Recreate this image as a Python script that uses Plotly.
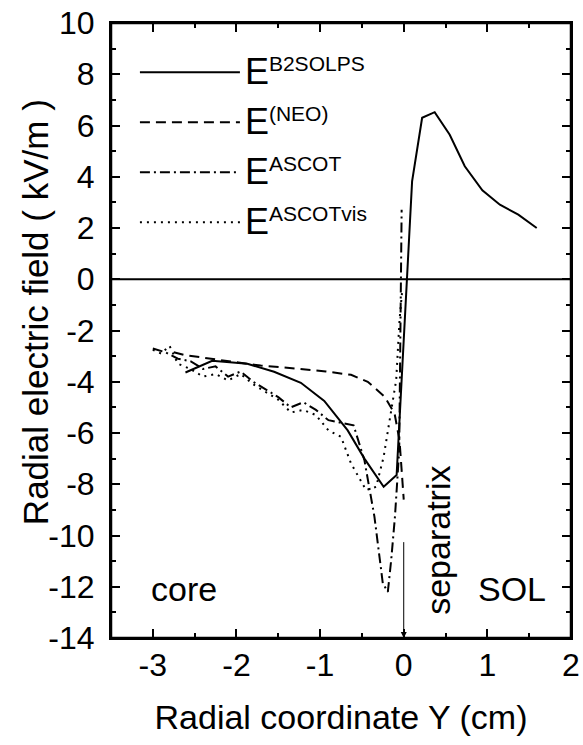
import plotly.graph_objects as go

# ---- data ----
b2_x = [-2.61, -2.29, -1.87, -1.55, -1.23, -0.95, -0.67, -0.47, -0.24, -0.085, 0.10, 0.22, 0.37, 0.55, 0.73, 0.94, 1.15, 1.37, 1.59]
b2_y = [-3.64, -3.18, -3.30, -3.61, -4.04, -4.75, -5.90, -7.00, -8.10, -7.64, 3.82, 6.30, 6.52, 5.64, 4.41, 3.47, 2.91, 2.52, 2.00]

neo_x = [-2.75, -2.63, -2.2, -1.71, -1.3, -0.93, -0.63, -0.43, -0.23, -0.11, -0.05, -0.02, 0.0]
neo_y = [-2.85, -2.95, -3.15, -3.37, -3.48, -3.60, -3.73, -4.00, -4.58, -5.23, -6.3, -7.5, -8.6]

ascot_x = [-3.0, -2.85, -2.7, -2.55, -2.4, -2.25, -2.1, -1.95, -1.8, -1.65, -1.5, -1.35, -1.2, -1.05, -0.9, -0.75, -0.6,
           -0.47, -0.35, -0.25, -0.19, -0.15, -0.105, -0.054, -0.04, -0.025]
ascot_y = [-2.7, -2.85, -3.1, -3.2, -3.5, -3.4, -3.8, -3.6, -4.0, -4.3, -4.6, -5.0, -4.8, -5.1, -5.5, -5.6, -5.7,
           -7.06, -9.27, -11.87, -12.2, -10.96, -9.27, -6.67, -2.1, 2.71]

vis_x = [-3.0, -2.9, -2.8, -2.7, -2.55, -2.4, -2.25, -2.1, -1.95, -1.8, -1.65, -1.5, -1.35, -1.2, -1.05, -0.9, -0.75,
         -0.63, -0.45, -0.33, -0.24, -0.15, -0.09, -0.05, -0.02]
vis_y = [-2.75, -2.9, -2.6, -3.3, -3.5, -3.8, -3.7, -3.95, -3.7, -4.1, -4.4, -4.7, -5.2, -5.1, -5.3, -5.9, -6.15,
         -7.19, -8.23, -8.1, -6.93, -5.1, -3.93, -1.58, -0.5]

series_sup = ["B2SOLPS", "(NEO)", "ASCOT", "ASCOTvis"]

x_ticks = [-3, -2, -1, 0, 1, 2]
y_ticks = list(range(-14, 11, 2))
x_range = [-3.5, 2]
y_range = [-14, 10]

FONT = "Liberation Sans, Arial, sans-serif"


def legend_name(sup):
    return "<span style='font-size:36px'>E</span><sup>" + sup + "</sup>"


styles = ["solid", "10px,6px", "10px,4px,2px,4px", "2px,5px"]
data = [(b2_x, b2_y), (neo_x, neo_y), (ascot_x, ascot_y), (vis_x, vis_y)]

fig = go.Figure()
for i, ((xs, ys), sup, ds) in enumerate(zip(data, series_sup, styles)):
    fig.add_trace(go.Scatter(x=xs, y=ys, mode="lines", name=legend_name(sup), legendgroup="g%d" % i,
                             line=dict(color="black", width=2, dash=ds)))

# zero line
fig.add_hline(y=0, line=dict(color="black", width=2))

# plot frame (paper coordinates of the plot area)
fig.add_shape(type="rect", xref="paper", yref="paper", x0=0, x1=1, y0=0, y1=1,
              line=dict(color="black", width=2.5), fillcolor="rgba(0,0,0,0)", layer="above")

# separatrix arrow
fig.add_annotation(x=0, y=-14, ax=0, ay=-10.2, axref="x", ayref="y", xref="x", yref="y",
                   showarrow=True, arrowhead=2, arrowsize=1.2, arrowwidth=1, arrowcolor="black", text="")

fig.add_annotation(x=-2.63, y=-12.1, text="core", showarrow=False, font=dict(size=34, color="black", family=FONT))
fig.add_annotation(x=1.29, y=-12.1, text="SOL", showarrow=False, font=dict(size=34, color="black", family=FONT))
fig.add_annotation(x=0.40, y=-10.2, text="separatrix", textangle=-90, showarrow=False,
                   font=dict(size=34, color="black", family=FONT))

# y-axis title placed as rotated text left of the tick labels
fig.add_annotation(xref="paper", yref="paper", x=-0.165, y=0.53, text="Radial electric field ( kV/m )",
                   textangle=-90, showarrow=False, xanchor="center", yanchor="middle",
                   font=dict(size=35, color="black", family=FONT))

axis_common = dict(showgrid=False, zeroline=False, showline=True, linecolor="black", linewidth=2,
                   mirror="allticks", ticks="inside", ticklen=9, tickwidth=2, tickcolor="black",
                   automargin=False, ticklabeloverflow="allow",
                   tickfont=dict(size=32, color="black", family=FONT))

fig.update_xaxes(range=x_range, tickvals=x_ticks, ticktext=[str(v) for v in x_ticks],
                 minor=dict(dtick=0.5, ticks="inside", ticklen=5, tickwidth=2, tickcolor="black"),
                 ticklabelstandoff=-2,
                 title=dict(text="Radial coordinate Y (cm)", font=dict(size=34, color="black", family=FONT), standoff=23),
                 **axis_common)
fig.update_yaxes(range=y_range, tickvals=y_ticks, ticktext=[str(v) for v in y_ticks],
                 minor=dict(dtick=1, ticks="inside", ticklen=5, tickwidth=2, tickcolor="black"),
                 ticklabelstandoff=8,
                 **axis_common)

fig.update_layout(
    width=583, height=745,
    margin=dict(l=111, r=12, t=23, b=107),
    plot_bgcolor="white", paper_bgcolor="white",
    showlegend=True,
    legend=dict(x=0.052, y=0.962, xanchor="left", yanchor="top", bgcolor="rgba(0,0,0,0)",
                font=dict(size=30, color="black", family=FONT), itemwidth=100, tracegroupgap=8,
                traceorder="grouped"),
    font=dict(family=FONT, color="black"),
)

# remove the default page margin so the figure sits at the window's top-left corner
fig.write_html("out.html", config={"displayModeBar": False},
               post_script="document.body.style.margin='0';document.body.style.overflow='hidden';")
